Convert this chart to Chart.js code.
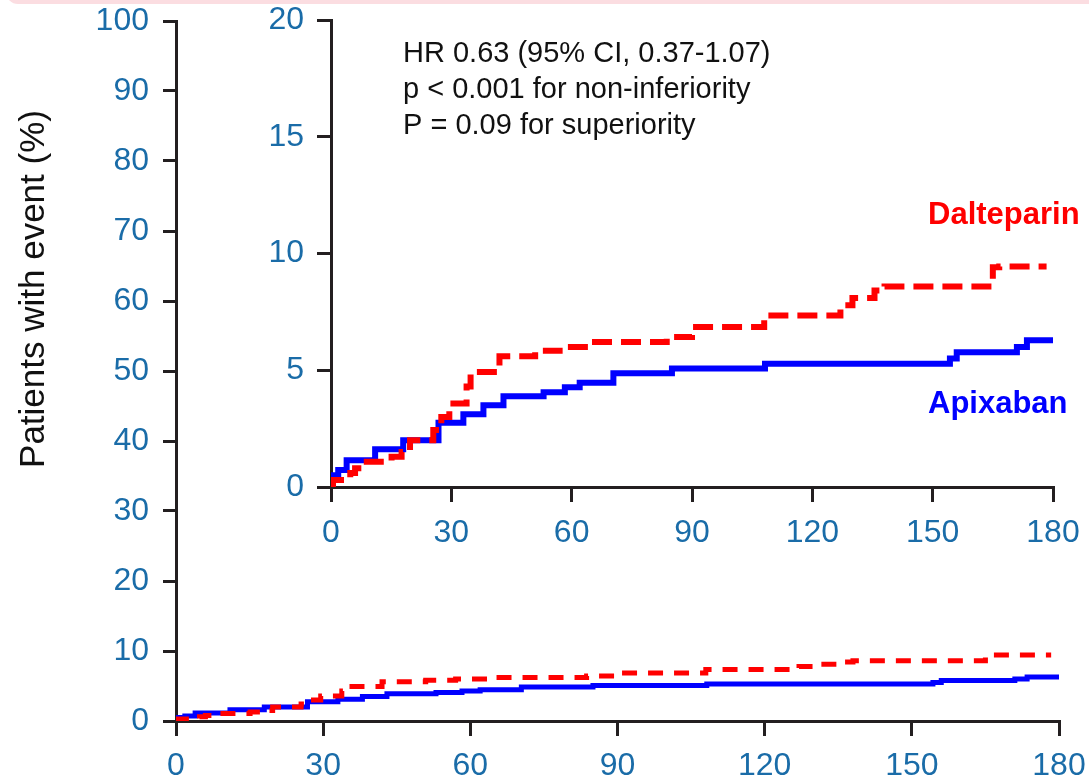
<!DOCTYPE html>
<html>
<head>
<meta charset="utf-8">
<script src="https://cdn.jsdelivr.net/npm/chart.js@4.4.0/dist/chart.umd.min.js"></script>
<style>
  body { margin: 0; background: #fff; }
  #wrap { position: relative; width: 1089px; height: 781px; overflow: hidden; }
  #band { position: absolute; left: 6px; top: -10px; width: 1100px; height: 14px; background: #fbdde1; border-bottom-left-radius: 12px; }
  #main { position: absolute; left: 0; top: 0; }
  #inset { position: absolute; left: 250px; top: 0; }
</style>
</head>
<body>
<div id="wrap">
  <div id="band"></div>
  <canvas id="main" width="1089" height="781"></canvas>
  <canvas id="inset" width="839" height="545"></canvas>
</div>
<script>
// days since randomization and cumulative % with event
let apixDays = [0, 0.4, 1.8, 3.9, 11, 18, 26.8, 33, 38, 43, 53, 58.3, 62, 70.4, 85, 108.2, 154.3, 156, 171, 173.5, 180]
let apixPct  = [0, 0.5, 0.73, 1.15, 1.62, 2.0, 2.75, 3.12, 3.5, 3.89, 4.06, 4.27, 4.46, 4.87, 5.07, 5.28, 5.5, 5.77, 6.0, 6.28, 6.28]

let daltDays = [0, 0.5, 4.8, 6, 7.6, 15.1, 17.6, 19.7, 25.5, 27.5, 29.5, 33.8, 34.8, 42, 50.9, 57, 64.7, 83.7, 90, 108, 127, 130, 135.5, 138, 165, 166.6, 178.4]
let daltPct  = [0, 0.3, 0.6, 0.8, 1.08, 1.3, 1.5, 2.0, 2.44, 3.0, 3.58, 4.3, 4.93, 5.6, 5.83, 6.0, 6.21, 6.42, 6.85, 7.35, 7.78, 8.09, 8.42, 8.59, 9.41, 9.44, 9.44]

let mainYTicks = [0, 10, 20, 30, 40, 50, 60, 70, 80, 90, 100]
let insetYTicks = [0, 5, 10, 15, 20]
let xTicks = [0, 30, 60, 90, 120, 150, 180]

const FONT = "'Liberation Sans', Arial, sans-serif"
const TICK_BLUE = '#1a6ca8'
const AXIS = '#231f20'

// tick numbers in the original are a narrow face; use it if present
function hasFont(name) {
    const c = document.createElement('canvas').getContext('2d')
    c.font = '40px monospace'
    const a = c.measureText('100 abc').width
    c.font = '40px "' + name + '", monospace'
    return c.measureText('100 abc').width !== a
}
const narrow = hasFont('Liberation Sans Narrow')
const tickFont = narrow ? { size: 38, family: "'Liberation Sans Narrow'" } : { size: 32, family: FONT }

function pts(days, pct) {
    return days.map((d, i) => ({ x: d, y: pct[i] }))
}

function datasets(lw, dash) {
    return [
        {
            label: 'Dalteparin',
            data: pts(daltDays, daltPct),
            borderColor: '#ff0000',
            borderWidth: lw,
            borderDash: dash,
            stepped: true,
            pointRadius: 0,
            fill: false
        },
        {
            label: 'Apixaban',
            data: pts(apixDays, apixPct),
            borderColor: '#0000ff',
            borderWidth: lw,
            stepped: true,
            pointRadius: 0,
            fill: false
        }
    ]
}

function noOverhang(s) {
    s.paddingTop = 0
    s.paddingBottom = 0
    s.paddingLeft = 0
    s.paddingRight = 0
}

function scales(yMax, yTicks, yWidth, xHeight, tickX, tickY, xPad, yPad) {
    return {
        x: {
            type: 'linear', min: 0, max: 180,
            afterBuildTicks: s => { s.ticks = xTicks.map(v => ({ value: v })) },
            ticks: { color: TICK_BLUE, font: tickFont, padding: xPad, maxRotation: 0 },
            grid: { drawOnChartArea: false, drawTicks: true, tickLength: tickX, color: AXIS, lineWidth: 3 },
            border: { display: true, color: AXIS, width: 3 },
            afterFit: s => { s.height = xHeight; noOverhang(s) }
        },
        y: {
            min: 0, max: yMax,
            afterBuildTicks: s => { s.ticks = yTicks.map(v => ({ value: v })) },
            ticks: { color: TICK_BLUE, font: tickFont, padding: yPad },
            grid: { drawOnChartArea: false, drawTicks: true, tickLength: tickY, color: AXIS, lineWidth: 3 },
            border: { display: true, color: AXIS, width: 3 },
            afterFit: s => { s.width = yWidth; noOverhang(s) }
        }
    }
}

const yTitle = {
    id: 'yTitle',
    afterDraw(chart) {
        const c = chart.ctx
        c.save()
        c.translate(34, 289)
        c.rotate(-Math.PI / 2)
        c.font = '35px ' + FONT
        c.fillStyle = '#111'
        c.textAlign = 'center'
        c.textBaseline = 'middle'
        c.fillText('Patients with event (%)', 0, 0)
        c.restore()
    }
}

const notes = {
    id: 'notes',
    afterDraw(chart) {
        const c = chart.ctx
        const ox = 250
        c.save()
        c.font = '29px ' + FONT
        c.fillStyle = '#111'
        c.textBaseline = 'middle'
        c.fillText('HR 0.63 (95% CI, 0.37-1.07)', 403 - ox, 54)
        c.fillText('p < 0.001 for non-inferiority', 403 - ox, 90)
        c.fillText('P = 0.09 for superiority', 403 - ox, 126)
        c.font = 'bold 31px ' + FONT
        c.fillStyle = '#ff0000'
        c.fillText('Dalteparin', 928 - ox, 215)
        c.fillStyle = '#0000ff'
        c.fillText('Apixaban', 928 - ox, 404)
        c.restore()
    }
}

let mainChart = new Chart(document.getElementById('main').getContext('2d'), {
    type: 'line',
    data: { datasets: datasets(5, [15, 11]) },
    options: {
        responsive: false,
        animation: false,
        layout: { padding: { top: 21, right: 30, bottom: 0, left: 0 } },
        plugins: { legend: { display: false }, tooltip: { enabled: false } },
        scales: scales(100, mainYTicks, 176, 60, 15, 13, narrow ? 8 : 11, 14)
    },
    plugins: [yTitle]
});

let insetChart = new Chart(document.getElementById('inset').getContext('2d'), {
    type: 'line',
    data: { datasets: datasets(6, [20, 9]) },
    options: {
        responsive: false,
        animation: false,
        layout: { padding: { top: 20, right: 36, bottom: 0, left: 0 } },
        plugins: { legend: { display: false }, tooltip: { enabled: false } },
        scales: scales(20, insetYTicks, 81, 58, 15, 14, narrow ? 10 : 12, 13)
    },
    plugins: [notes]
});
</script>
</body>
</html>
